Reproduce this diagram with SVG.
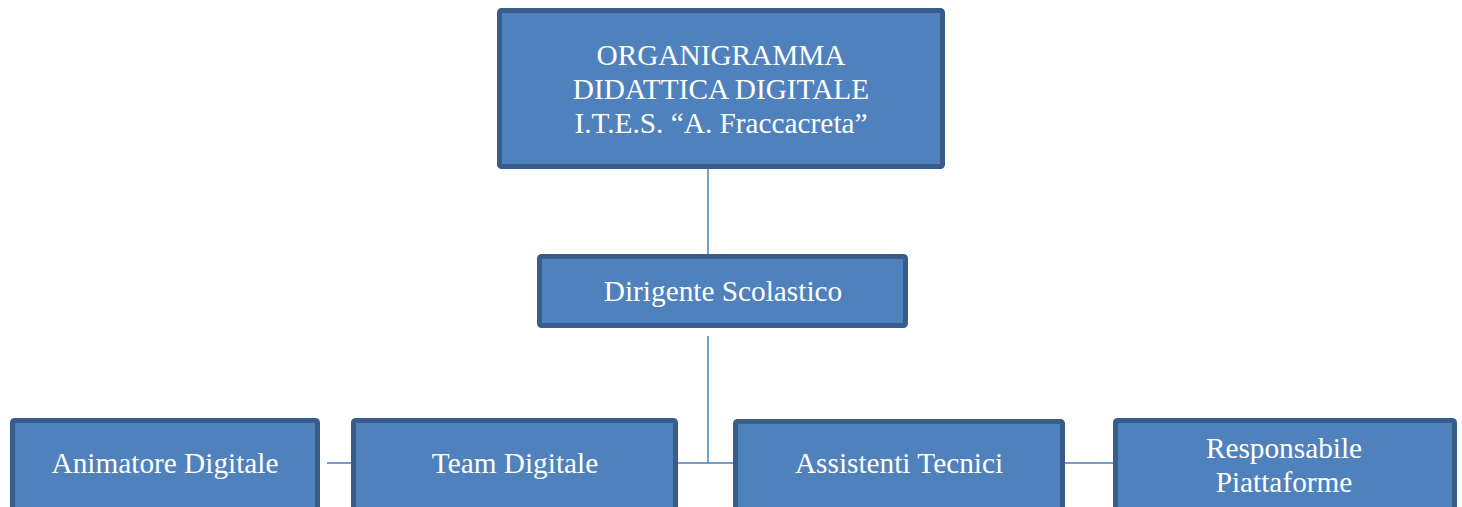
<svg xmlns="http://www.w3.org/2000/svg" width="1462" height="507" viewBox="0 0 1462 507">
<style>
.box{fill:#4F81BD;stroke:#385D8A;stroke-width:5}
.lbl{font-family:"Liberation Serif","Times New Roman",serif;font-size:29.3px;fill:#FFFFFF;text-anchor:middle}
.con{stroke:#4A7EBB;stroke-width:1.5;fill:none}
</style>
<rect width="1462" height="507" fill="#FFFFFF"/>
<g id="connectors">
<line class="con" x1="708" y1="169" x2="708" y2="254"/>
<line class="con" x1="708" y1="336" x2="708" y2="463"/>
<line class="con" x1="678" y1="463" x2="735" y2="463"/>
<line class="con" x1="327" y1="463" x2="352" y2="463"/>
<line class="con" x1="1065" y1="463" x2="1114" y2="463"/>
</g>
<g id="node-title">
<rect class="box" x="499.5" y="10.5" width="443" height="156" rx="2"/>
<text class="lbl" x="721" y="65">ORGANIGRAMMA</text>
<text class="lbl" x="721" y="99">DIDATTICA DIGITALE</text>
<text class="lbl" x="721" y="133">I.T.E.S. “A. Fraccacreta”</text>
</g>
<g id="node-dirigente">
<rect class="box" x="539.5" y="256.5" width="366" height="69" rx="2"/>
<text class="lbl" x="723" y="301">Dirigente Scolastico</text>
</g>
<g id="node-animatore">
<rect class="box" x="12.5" y="420.5" width="305" height="100" rx="2"/>
<text class="lbl" x="165" y="473">Animatore Digitale</text>
</g>
<g id="node-team">
<rect class="box" x="353.5" y="420.5" width="322" height="100" rx="2"/>
<text class="lbl" x="515" y="473">Team Digitale</text>
</g>
<g id="node-assistenti">
<rect class="box" x="735.5" y="421.5" width="327" height="100" rx="2"/>
<text class="lbl" x="899" y="473">Assistenti Tecnici</text>
</g>
<g id="node-responsabile">
<rect class="box" x="1115.5" y="420.5" width="339" height="100" rx="2"/>
<text class="lbl" x="1284" y="458">Responsabile</text>
<text class="lbl" x="1284" y="492">Piattaforme</text>
</g>
</svg>
